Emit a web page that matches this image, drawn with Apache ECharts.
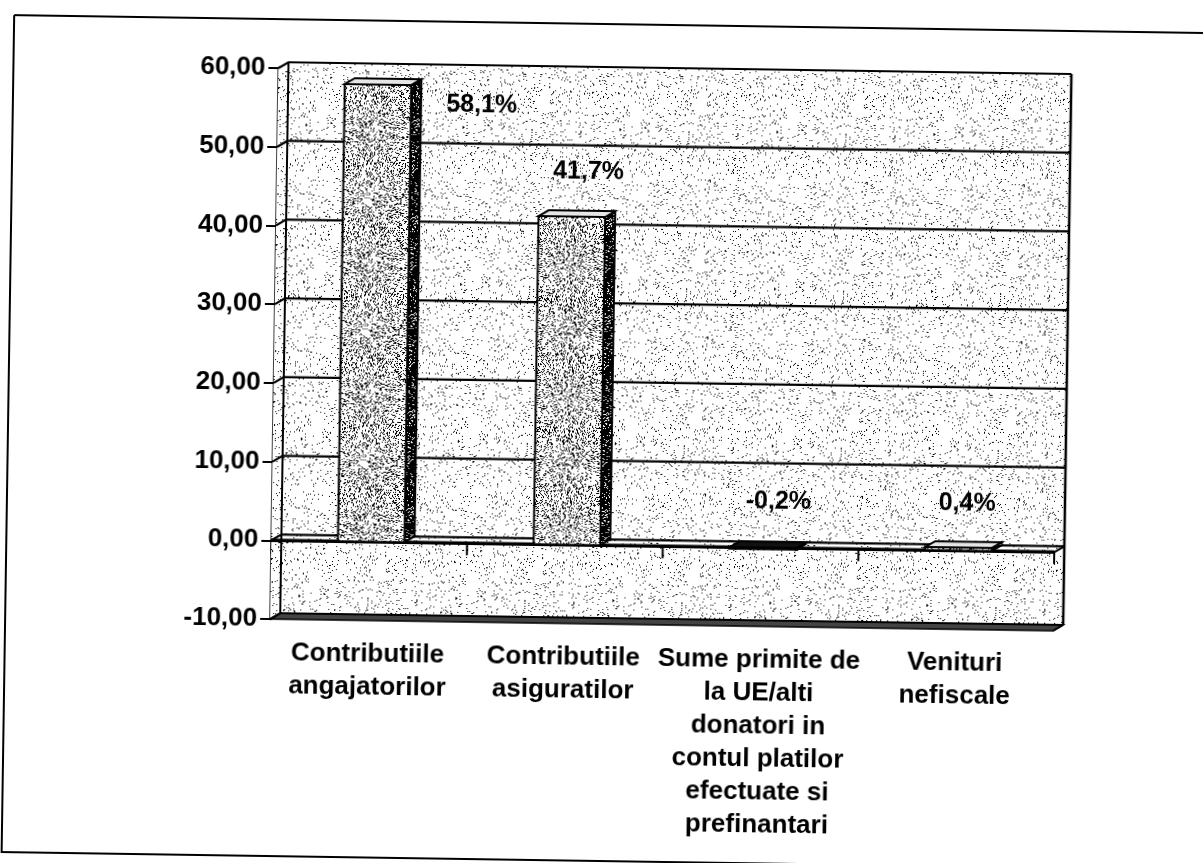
<!DOCTYPE html>
<html><head><meta charset="utf-8">
<script src="https://cdn.jsdelivr.net/npm/echarts@6/dist/echarts.min.js"></script>
<style>
html,body{margin:0;padding:0;background:#fff;overflow:hidden}
#chart{width:1203px;height:863px;transform:rotate(0.86deg);transform-origin:601.5px 431.5px}
</style>
</head><body><div id="chart"></div>
<script>
// ---------- data ----------
const categories = [
  'Contributiile\nangajatorilor',
  'Contributiile\nasiguratilor',
  'Sume primite de\nla UE/alti\ndonatori in\ncontul platilor\nefectuate si\nprefinantari',
  'Venituri\nnefiscale'
];
const values = [58.1, 41.7, -0.2, 0.4];
const valueLabels = ['58,1%', '41,7%', '-0,2%', '0,4%'];
const yTicks = [-10, 0, 10, 20, 30, 40, 50, 60];
const yTickLabels = ['-10,00', '0,00', '10,00', '20,00', '30,00', '40,00', '50,00', '60,00'];

// ---------- style ----------
const FONT = '"Liberation Sans", Arial, sans-serif';
const DEPTH = [10, -6];
const BAR_SHIFT = 2;
const BAR_RATIO = 0.34;
const labelOffsets = [[104, 19], [16, -45], [15, -46], [8, -44]];

function stipple(density, seed, size) {
  const c = document.createElement('canvas');
  c.width = size; c.height = size;
  const ctx = c.getContext('2d');
  const img = ctx.createImageData(size, size);
  let s = seed >>> 0;
  for (let p = 0; p < size * size; p++) {
    s = (Math.imul(s, 1103515245) + 12345) >>> 0;
    const r = (s >>> 8) / 16777216;
    const k = r < density ? 0 : 255;
    img.data[p * 4] = k; img.data[p * 4 + 1] = k; img.data[p * 4 + 2] = k; img.data[p * 4 + 3] = 255;
  }
  ctx.putImageData(img, 0, 0);
  return { image: c, repeat: 'repeat' };
}
const bgPattern = stipple(0.05, 12345, 157);
const barPattern = stipple(0.25, 987, 131);
const sidePattern = stipple(0.85, 555, 97);

const chart = echarts.init(document.getElementById('chart'), null, { renderer: 'canvas' });

function wallsRender(params, api) {
  const cs = params.coordSys;
  const x0 = cs.x, x1 = cs.x + cs.width;
  const dx = DEPTH[0], dy = DEPTH[1];
  const yOf = v => api.coord([0, v])[1];
  const top = yOf(yTicks[yTicks.length - 1]);
  const bot = yOf(yTicks[0]);
  const zero = yOf(0);
  const ch = [];
  ch.push({ type: 'polygon', shape: { points: [[x0, top], [x0 + dx, top + dy], [x1 + dx, top + dy], [x1 + dx, bot + dy], [x1, bot], [x0, bot]] },
    style: { fill: bgPattern } });
  // floor at bottom
  ch.push({ type: 'polygon', shape: { points: [[x0, bot], [x0 + dx, bot + dy], [x1 + dx, bot + dy], [x1, bot]] },
    style: { fill: '#444', stroke: '#000', lineWidth: 1.5 } });
  // back grid lines
  yTicks.forEach(v => {
    const y = yOf(v);
    ch.push({ type: 'polyline', shape: { points: [[x0, y], [x0 + dx, y + dy], [x1 + dx, y + dy]] },
      style: { stroke: '#000', lineWidth: 2.2, fill: null } });
  });
  // left wall inner line, right edge
  ch.push({ type: 'line', shape: { x1: x0 + dx, y1: top + dy, x2: x0 + dx, y2: bot + dy }, style: { stroke: '#000', lineWidth: 2 } });
  ch.push({ type: 'line', shape: { x1: x1 + dx, y1: top + dy, x2: x1 + dx, y2: bot + dy }, style: { stroke: '#000', lineWidth: 2.5 } });
  ch.push({ type: 'line', shape: { x1: x1, y1: bot, x2: x1 + dx, y2: bot + dy }, style: { stroke: '#000', lineWidth: 2 } });
  // front zero line
  ch.push({ type: 'line', shape: { x1: x0, y1: zero, x2: x1, y2: zero }, style: { stroke: '#000', lineWidth: 3.5 } });
  ch.push({ type: 'line', shape: { x1: x1, y1: zero, x2: x1 + dx, y2: zero + dy }, style: { stroke: '#000', lineWidth: 2 } });
  // ticks under the zero line at category boundaries
  const band = api.size([1, 0])[0];
  for (let i = 0; i < categories.length; i++) {
    const bx = api.coord([i, 0])[0] + band / 2;
    ch.push({ type: 'line', shape: { x1: bx, y1: zero, x2: bx, y2: zero + 12 }, style: { stroke: '#000', lineWidth: 2 } });
  }
  return { type: 'group', children: ch };
}

function barsRender(params, api) {
  const i = api.value(0), v = api.value(1);
  const band = api.size([1, 0])[0];
  const w = band * BAR_RATIO;
  const base = api.coord([i, 0]);
  const tip = api.coord([i, v]);
  const cx = base[0] + BAR_SHIFT;
  const yTop = Math.min(base[1], tip[1]);
  const yBot = Math.max(base[1], tip[1]);
  const x = cx - w / 2;
  const dx = DEPTH[0], dy = DEPTH[1];
  const neg = v < 0;
  const off = labelOffsets[params.dataIndex];
  return {
    type: 'group',
    children: [
      { type: 'polygon', shape: { points: [[x + w, yTop], [x + w + dx, yTop + dy], [x + w + dx, yBot + dy], [x + w, yBot]] },
        style: { fill: sidePattern, stroke: '#000', lineWidth: 2 } },
      { type: 'polygon', shape: { points: [[x, yTop], [x + dx, yTop + dy], [x + w + dx, yTop + dy], [x + w, yTop]] },
        style: { fill: neg ? '#111' : '#e6e6e6', stroke: '#000', lineWidth: 2 } },
      { type: 'rect', shape: { x: x, y: yTop, width: w, height: Math.max(yBot - yTop, 1) },
        style: { fill: barPattern, stroke: '#000', lineWidth: 2 } },
      { type: 'text', style: { text: valueLabels[params.dataIndex], x: cx + off[0], y: yTop + off[1],
        align: 'center', verticalAlign: 'middle', font: 'bold 25px ' + FONT, fill: '#000' } }
    ]
  };
}

const option = {
  backgroundColor: '#fff',
  animation: false,
  grid: { left: 273, top: 73, right: 147, bottom: 239, containLabel: false },
  xAxis: {
    type: 'category', data: categories,
    axisLine: { show: true, lineStyle: { color: '#000', width: 3 } },
    axisTick: { show: true, interval: 0, length: 14, lineStyle: { color: '#000', width: 2 } },
    axisLabel: { interval: 0, color: '#000', fontFamily: FONT, fontWeight: 'bold', fontSize: 26, lineHeight: 33, margin: 17 },
    splitLine: { show: false }
  },
  yAxis: {
    type: 'value', min: -10, max: 60, interval: 10,
    axisLine: { show: true, lineStyle: { color: '#000', width: 2.5 } },
    axisTick: { show: true, length: 10, lineStyle: { color: '#000', width: 2 } },
    axisLabel: { color: '#000', fontFamily: FONT, fontWeight: 'bold', fontSize: 26, margin: 13,
      formatter: v => { const k = yTicks.indexOf(v); return k >= 0 ? yTickLabels[k] : ''; } },
    splitLine: { show: false }
  },
  graphic: [
    { type: 'polyline', shape: { points: [[8, 24], [1203, 24]] }, style: { stroke: '#000', lineWidth: 2, fill: null } },
    { type: 'polyline', shape: { points: [[8, 24], [8, 861], [1203, 861]] }, style: { stroke: '#000', lineWidth: 2, fill: null } }
  ],
  series: [
    { type: 'custom', coordinateSystem: 'cartesian2d', data: [[0, 0]], renderItem: wallsRender, z: 1, silent: true },
    { type: 'custom', coordinateSystem: 'cartesian2d', data: values.map((v, i) => [i, v]), renderItem: barsRender, z: 3 }
  ]
};
chart.setOption(option);
</script>
</body></html>
